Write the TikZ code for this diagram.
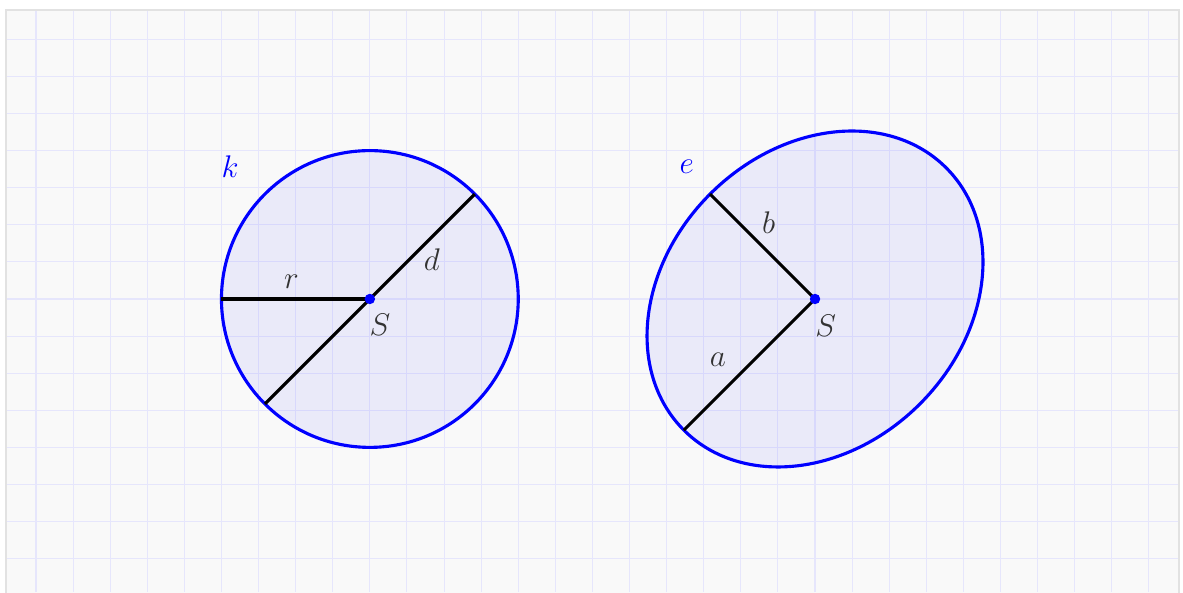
\documentclass[tikz,border=0pt]{standalone}
\usepackage{amsmath}
\usepackage{tikz}

\definecolor{paper}{RGB}{249,249,249}
\definecolor{frame}{RGB}{226,226,226}
\definecolor{gridblue}{RGB}{230,230,252}

\begin{document}
\begin{tikzpicture}[x=0.5cm, y=0.5cm, font=\large,
    gridline/.style={gridblue, line width=0.4pt},
    outline/.style={blue, line width=1.2pt, fill=blue, fill opacity=0.06},
    spoke/.style={black, line width=1.2pt},
    centre/.style={circle, fill=blue, inner sep=0pt, minimum size=4pt},
    lbl/.style={text=black!80},
    curvelbl/.style={text=blue}]
  % Centres: circle k at (0,0), ellipse e at (12,0)
  % Circle radius 4, ellipse a = 5 (along 45 deg), b = 4
  \useasboundingbox (-9.97,-7.90) rectangle (21.92,8.06);

  % --- paper and grid ---
  \fill[white] (-9.97,-7.90) rectangle (21.92,8.06);
  \filldraw[fill=paper, draw=frame, line width=1pt] (-9.81,-8.2) rectangle (21.81,7.79);
  \foreach \x in {-9,...,21}
    \draw[gridline] (\x,-7.9) -- (\x,7.75);
  \foreach \y in {-7,...,7}
    \draw[gridline] (-9.78,\y) -- (21.78,\y);

  % --- circle k ---
  \coordinate (S1) at (0,0);
  \coordinate (R1) at ([shift={(180:4)}]S1);
  \coordinate (D1) at ([shift={(45:4)}]S1);
  \coordinate (D2) at ([shift={(225:4)}]S1);
  \draw[outline] (S1) circle [radius=4];
  \draw[spoke] (R1) -- (S1);
  \draw[spoke] (D2) -- (D1);
  \node[centre] (s1) at (S1) {};

  % --- ellipse e ---
  \coordinate (S2) at (12,0);
  \coordinate (A1) at ([shift={(225:5)}]S2);
  \coordinate (B1) at ([shift={(135:4)}]S2);
  \draw[outline, rotate around={45:(S2)}] (S2) ellipse [x radius=5, y radius=4];
  \draw[spoke] (A1) -- (S2);
  \draw[spoke] (B1) -- (S2);
  \node[centre] (s2) at (S2) {};

  % --- labels ---
  \node[curvelbl] (k) at (-3.77,3.56) {$k$};
  \node[curvelbl] (e) at (8.54,3.56) {$e$};
  \node[lbl] (r) at (-2.11,0.46) {$r$};
  \node[lbl] (d) at (1.67,1.05) {$d$};
  \node[lbl] (s1lbl) at (0.27,-0.70) {$S$};
  \node[lbl] (b) at (10.75,2.05) {$b$};
  \node[lbl] (a) at (9.38,-1.65) {$a$};
  \node[lbl] (s2lbl) at (12.29,-0.73) {$S$};

\end{tikzpicture}
\end{document}
